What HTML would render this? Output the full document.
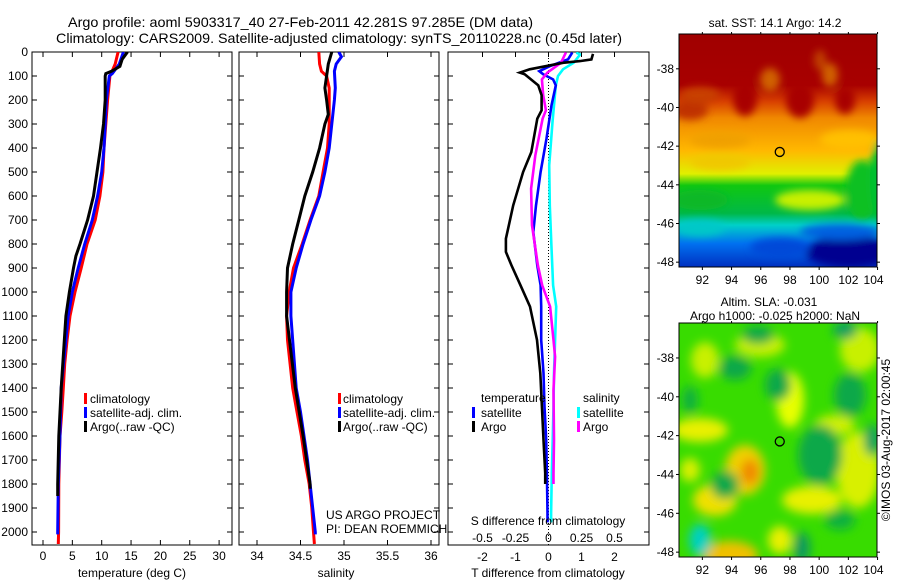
<!DOCTYPE html>
<html><head><meta charset="utf-8"><style>
html,body{margin:0;padding:0;background:#fff;}
svg{display:block;font-family:"Liberation Sans",sans-serif;}
</style></head><body>
<svg id="chart" width="900" height="580" viewBox="0 0 900 580" xmlns="http://www.w3.org/2000/svg">
<defs>
<filter id="blur4" x="-10%" y="-10%" width="120%" height="120%"><feGaussianBlur stdDeviation="4"/></filter>
<filter id="blur6" x="-10%" y="-10%" width="120%" height="120%"><feGaussianBlur stdDeviation="5"/></filter>
<clipPath id="clipMap1"><rect x="679" y="34" width="198" height="233"/></clipPath>
<clipPath id="clipMap2"><rect x="679" y="323" width="198" height="234"/></clipPath>
<clipPath id="clipP1"><rect x="32" y="52" width="200" height="493"/></clipPath>
<clipPath id="clipP2"><rect x="239" y="52" width="200" height="493"/></clipPath>
<clipPath id="clipP3"><rect x="448" y="52" width="201" height="493"/></clipPath>
<linearGradient id="sstGrad" x1="0" y1="0" x2="0" y2="1">
<stop offset="0" stop-color="#a00000"/><stop offset="0.22" stop-color="#a80000"/>
<stop offset="0.29" stop-color="#d84000"/><stop offset="0.36" stop-color="#f08800"/>
<stop offset="0.5" stop-color="#ffb800"/><stop offset="0.6" stop-color="#e0f000"/>
<stop offset="0.65" stop-color="#10c810"/><stop offset="0.77" stop-color="#00b848"/>
<stop offset="0.82" stop-color="#00d0c8"/><stop offset="0.9" stop-color="#0070f0"/>
<stop offset="1" stop-color="#0030c0"/></linearGradient>
</defs>
<g id="titles">
<text x="68" y="27" font-size="14" textLength="465" lengthAdjust="spacingAndGlyphs">Argo profile: aoml 5903317_40 27-Feb-2011 42.281S 97.285E (DM data)</text>
<text x="56" y="43" font-size="14" textLength="566" lengthAdjust="spacingAndGlyphs">Climatology: CARS2009. Satellite-adjusted climatology: synTS_20110228.nc (0.45d later)</text>
</g>
<g id="panels"></g>
<g id="maps"></g>
</svg>
<script>
// ---------- data ----------
const depthTicks=[0,100,200,300,400,500,600,700,800,900,1000,1100,1200,1300,1400,1500,1600,1700,1800,1900,2000];
const tempTicks=[0,5,10,15,20,25,30];
const salTicks=[34,34.5,35,35.5,36];
const dTTicks=[-2,-1,0,1,2];
const dSTicks=[-0.5,-0.25,0,0.25,0.5];
const dSTickLabels=["-0.5","-0.25","0","0.25","0.5"];
// temperature profiles
const climTdepth=[0,50,90,100,200,400,500,600,700,800,900,1000,1100,1200,1300,1400,1500,1600,1800,2000,2050];
const climT=[12.8,12.3,11.6,11.4,11.0,10.4,10.2,9.7,8.9,7.5,6.5,5.45,4.6,4.1,3.7,3.45,3.2,2.9,2.7,2.65,2.6];
const satTdepth=[0,50,90,100,200,400,500,600,700,800,900,1000,1100,1200,1300,1400,1500,1600,1800,2000,2010];
const satT=[13.7,13.0,11.8,11.3,10.8,10.4,10.0,9.3,8.4,7.1,6.0,5.0,4.3,3.9,3.5,3.1,3.0,2.9,2.6,2.5,2.5];
const argoTdepth=[0,30,60,80,90,100,200,300,400,500,600,700,800,850,900,1000,1100,1400,1600,1800,1850];
const argoT=[14.4,13.5,13.1,11.7,10.7,10.6,10.6,10.3,9.8,9.2,8.6,7.6,6.3,5.6,5.2,4.5,3.9,3.1,2.7,2.5,2.5];
// salinity profiles
const climSdepth=[0,50,80,100,150,300,400,500,600,700,800,900,1000,1100,1200,1300,1400,1500,1600,1700,1800,1900,2000,2050];
const climS=[34.71,34.72,34.74,34.80,34.83,34.83,34.81,34.76,34.71,34.61,34.52,34.42,34.37,34.34,34.35,34.38,34.41,34.46,34.51,34.55,34.60,34.63,34.65,34.66];
const satSdepth=[0,20,50,80,150,200,300,400,500,600,700,800,900,1000,1100,1400,1500,1600,1700,1800,1900,2000,2010];
const satS=[34.94,34.97,34.91,34.89,34.90,34.89,34.86,34.83,34.78,34.72,34.62,34.53,34.45,34.39,34.39,34.45,34.50,34.54,34.58,34.61,34.64,34.67,34.67];
const argoSdepth=[0,50,100,150,200,260,300,400,500,600,700,800,900,1000,1100,1400,1600,1800,1820];
const argoS=[34.86,34.82,34.80,34.78,34.80,34.82,34.78,34.72,34.64,34.55,34.48,34.41,34.35,34.34,34.34,34.44,34.53,34.61,34.61];
// differences (T in deg C; S plotted on 4x scale)
const dTsatDepth=[2,31,59,80,93,114,139,222,361,500,639,750,889,972,1061,1200,1338,1477,1616,1755,1922,1960];
const dTsat=[0.72,0.59,0.04,-0.28,-0.16,0.14,0.22,0.09,-0.06,-0.24,-0.38,-0.46,-0.34,-0.24,-0.22,-0.22,-0.15,-0.12,-0.07,-0.05,-0.03,-0.03];
const dTargoDepth=[8,31,38,45,72,86,93,139,180,243,278,417,500,639,778,833,889,972,1061,1200,1338,1477,1616,1755,1800];
const dTargo=[1.35,1.30,0.95,0.44,-0.57,-0.87,-0.72,-0.31,-0.21,-0.21,-0.34,-0.52,-0.77,-1.07,-1.29,-1.29,-1.12,-0.85,-0.56,-0.35,-0.25,-0.2,-0.15,-0.1,-0.1];
const dSsatDepth=[3,10,45,72,100,139,292,472,639,806,972,1061,1200,1338,1477,1616,1755,1922,1960];
const dSsat=[0.21,0.24,0.19,0.11,0.072,0.055,0.03,0.005,0.01,0.022,0.035,0.058,0.05,0.042,0.038,0.032,0.025,0.02,0.02];
const dSargoDepth=[2,45,86,114,180,243,278,431,569,722,889,972,1061,1200,1270,1408,1616,1755,1800];
const dSargo=[0.132,0.095,-0.008,-0.05,-0.04,-0.02,-0.045,-0.1,-0.132,-0.125,-0.08,-0.048,0.012,0.038,0.05,0.038,0.042,0.038,0.038];
// map annotations
const lonTicks=[92,94,96,98,100,102,104];
const latTicks=[-38,-40,-42,-44,-46,-48];
const floatLon=97.3, floatLat=-42.3;

// ---------- helpers ----------
const NS="http://www.w3.org/2000/svg";
function mk(tag,attrs,parent){const e=document.createElementNS(NS,tag);for(const k in attrs)e.setAttribute(k,attrs[k]);parent.appendChild(e);return e;}
const yD=d=>52+d*0.24;
const xT=v=>43+v*5.87;
const xS=v=>257+(v-34)*87;
const xDT=v=>548.5+v*33;
const xDS=v=>548.5+v*4*33;
const panels=document.getElementById('panels');

function frame(x0,x1,name){
  const r=mk('rect',{x:x0,y:52,width:x1-x0,height:493,fill:'none',stroke:'#000','stroke-width':1},panels);
  
  
  depthTicks.forEach(d=>{
    mk('line',{x1:x0,x2:x0+5,y1:yD(d),y2:yD(d),stroke:'#000'},panels);
    mk('line',{x1:x1-5,x2:x1,y1:yD(d),y2:yD(d),stroke:'#000'},panels);
  });
}
function xticks(ticks,fx,labels,y,name){
  ticks.forEach((v,i)=>{
    const x=fx(v);
    mk('line',{x1:x,x2:x,y1:545,y2:540,stroke:'#000'},panels);
    mk('line',{x1:x,x2:x,y1:52,y2:57,stroke:'#000'},panels);
    const t=mk('text',{x:x,y:y,'font-size':12,'text-anchor':'middle'},panels);
    t.textContent=labels?labels[i]:String(v);
    
    
  });
}
function curve(ds,vs,fx,color,clip,name,w){
  const p=mk('path',{d:ds.map((d,i)=>(i?'L':'M')+fx(vs[i]).toFixed(1)+','+yD(d).toFixed(1)).join(''),fill:'none',stroke:color,'stroke-width':w||3,'clip-path':'url(#'+clip+')'},panels);
  
  
}
function label(x,y,txt,name,anchor,size){
  const t=mk('text',{x:x,y:y,'font-size':size||12,'text-anchor':anchor||'start'},panels);
  t.textContent=txt;
  
  
  return t;
}
function legendMark(x,y,color,name){
  const r=mk('rect',{x:x,y:y-10,width:3,height:11,fill:color},panels);
  
  
}

depthTicks.forEach(d=>{
  label(28,yD(d)+4,String(d),'y-tick-label','end');
});

// panel 1
frame(32,232,'temperature-panel');
xticks(tempTicks,xT,null,560,'temperature-x-tick');
curve(climTdepth,climT,xT,'#ff0000','clipP1','climatology-temperature-line');
curve(satTdepth,satT,xT,'#0000ff','clipP1','satellite-temperature-line');
curve(argoTdepth,argoT,xT,'#000000','clipP1','argo-temperature-line');
label(132,577,'temperature (deg C)','temperature-axis-title','middle');
[['climatology','#ff0000'],['satellite-adj. clim.','#0000ff'],['Argo(..raw -QC)','#000000']].forEach((e,i)=>{
  legendMark(84,403+i*14,e[1],'temperature-legend-marker');
  label(90,403+i*14,e[0],'temperature-legend-entry');
});

// panel 2
frame(239,439,'salinity-panel');
xticks(salTicks,xS,null,560,'salinity-x-tick');
curve(climSdepth,climS,xS,'#ff0000','clipP2','climatology-salinity-line');
curve(satSdepth,satS,xS,'#0000ff','clipP2','satellite-salinity-line');
curve(argoSdepth,argoS,xS,'#000000','clipP2','argo-salinity-line');
label(336,577,'salinity','salinity-axis-title','middle');
[['climatology','#ff0000'],['satellite-adj. clim.','#0000ff'],['Argo(..raw -QC)','#000000']].forEach((e,i)=>{
  legendMark(338,403+i*14,e[1],'salinity-legend-marker');
  label(343,403+i*14,e[0],'salinity-legend-entry');
});
label(326,519,'US ARGO PROJECT','project-credit');
label(326,533,'PI: DEAN ROEMMICH','pi-credit');

// panel 3
mk('rect',{x:448,y:52,width:201,height:493,fill:'#fff'},panels);
frame(448,649,'difference-panel');
mk('line',{x1:xDT(0),x2:xDT(0),y1:52,y2:545,stroke:'#000','stroke-dasharray':'1,2'},panels);
curve(dSsatDepth,dSsat,xDS,'#00ffff','clipP3','satellite-salinity-difference-line',2.6);
curve(dTsatDepth,dTsat,xDT,'#0000ff','clipP3','satellite-temperature-difference-line',2.6);
curve(dSargoDepth,dSargo,xDS,'#ff00ff','clipP3','argo-salinity-difference-line',2.6);
curve(dTargoDepth,dTargo,xDT,'#000000','clipP3','argo-temperature-difference-line',2.6);
dTTicks.forEach(v=>{const x=xDT(v);mk('line',{x1:x,x2:x,y1:52,y2:57,stroke:'#000'},panels);});
dTTicks.forEach(v=>{
  label(xDT(v),561,String(v),'t-difference-x-tick','middle');
});
dSTicks.forEach((v,i)=>{
  label(xDS(v),542,dSTickLabels[i],'s-difference-x-tick','middle');
});
label(548,525,'S difference from climatology','s-difference-axis-title','middle');
label(548,577,'T difference from climatology','t-difference-axis-title','middle');
label(481,402,'temperature','difference-legend-temperature-heading');
label(583,402,'salinity','difference-legend-salinity-heading');
legendMark(472,417,'#0000ff','legend-marker-t-satellite');label(481,417,'satellite','legend-entry-t-satellite');
legendMark(472,431,'#000000','legend-marker-t-argo');label(481,431,'Argo','legend-entry-t-argo');
legendMark(577,417,'#00ffff','legend-marker-s-satellite');label(583,417,'satellite','legend-entry-s-satellite');
legendMark(577,431,'#ff00ff','legend-marker-s-argo');label(583,431,'Argo','legend-entry-s-argo');

// ---------- maps ----------
const maps=document.getElementById('maps');
const mx=lon=>679+(lon-90.4)*14.6;
function mapAxes(top,bottom,name){
  const my=lat=>top+(-36.2-lat)*((bottom-top)/12.05);
  const r=mk('rect',{x:679,y:top,width:198,height:bottom-top,fill:'none',stroke:'#000'},maps);
  
  
  lonTicks.forEach(l=>{
    mk('line',{x1:mx(l),x2:mx(l),y1:bottom,y2:bottom+3,stroke:'#000'},maps);
    mk('line',{x1:mx(l),x2:mx(l),y1:top,y2:top-2,stroke:'#000'},maps);
    const t=mk('text',{x:mx(l)-(l===104?4:0),y:bottom+17,'font-size':12,'text-anchor':'middle'},maps);
    t.textContent=String(l);
    
    
  });
  latTicks.forEach(l=>{
    mk('line',{x1:676,x2:679,y1:my(l),y2:my(l),stroke:'#000'},maps);
    mk('line',{x1:877,x2:880,y1:my(l),y2:my(l),stroke:'#000'},maps);
    const t=mk('text',{x:674,y:my(l)+4,'font-size':12,'text-anchor':'end'},maps);
    t.textContent=String(l);
    
    
  });
  const c=mk('circle',{cx:mx(floatLon),cy:my(floatLat),r:4.5,fill:'none',stroke:'#000','stroke-width':1.3},maps);
  
  
}
// SST map
const g1=mk('g',{'clip-path':'url(#clipMap1)'},maps);


mk('rect',{x:679,y:34,width:198,height:233,fill:'url(#sstGrad)'},g1);
const gb1=mk('g',{filter:'url(#blur4)'},g1);
[[690,110,18,10,'#c03000'],[745,98,12,18,'#a80000'],[800,100,14,18,'#a80000'],[845,100,10,14,'#a80000'],
 [700,95,20,8,'#c84000'],[770,80,10,12,'#d06000'],[830,75,8,12,'#d06000'],[820,60,6,10,'#c04000'],
 [720,140,30,8,'#f0a000'],[850,140,30,10,'#ffc000'],
 [862,190,16,30,'#10c020'],[700,200,28,10,'#10b828'],[880,180,10,40,'#00c030'],[720,162,30,8,'#f0c800'],
 [810,200,35,10,'#c8f000'],
 [850,252,45,16,'#000090'],[780,248,30,10,'#0048d8'],[700,228,25,8,'#00c8c8'],[840,232,40,8,'#0060e0']].forEach(b=>{
  mk('ellipse',{cx:b[0],cy:b[1],rx:b[2],ry:b[3],fill:b[4]},gb1);
});
mapAxes(34,267,'sst-map');
// SLA map
const g2=mk('g',{'clip-path':'url(#clipMap2)'},maps);


mk('rect',{x:679,y:323,width:198,height:234,fill:'#38dc00'},g2);
const gb2=mk('g',{filter:'url(#blur6)'},g2);
[[760,345,25,12,'#c8f000'],[790,400,14,28,'#e8ff00'],[700,430,28,12,'#e8f000'],[745,470,20,25,'#f0d000'],[750,472,9,13,'#f08800'],
 [715,500,22,16,'#f0e000'],[730,555,28,14,'#f0c000'],[812,500,30,14,'#e8f000'],[858,470,22,38,'#d8f000'],[860,350,20,22,'#c8f000'],
 [835,425,20,10,'#d0f000'],[705,360,14,18,'#c8f000'],[690,470,10,12,'#d8f000'],[780,540,12,14,'#e8f000'],
 [778,385,13,16,'#08a848'],[735,368,16,12,'#10a848'],[820,455,22,30,'#10a848'],[725,485,14,14,'#10a848'],[700,540,11,16,'#00d0c0'],
 [802,548,8,16,'#089860'],[850,395,16,22,'#10a848'],[872,440,8,16,'#10a060'],[758,335,16,9,'#10a848'],[845,330,12,9,'#10a060'],
 [690,400,8,14,'#10b040'],[840,520,15,10,'#10b040']].forEach(b=>{
  mk('ellipse',{cx:b[0],cy:b[1],rx:b[2],ry:b[3],fill:b[4]},gb2);
});
mapAxes(323,557,'sla-map');
function mtext(x,y,txt,name,extra){
  const t=mk('text',Object.assign({x:x,y:y,'font-size':12,'text-anchor':'middle'},extra||{}),maps);
  t.textContent=txt;
  
  
}
mtext(775,27,'sat. SST: 14.1 Argo: 14.2','sst-map-title');
mtext(769,306,'Altim. SLA: -0.031','sla-map-title');
mtext(775,320,'Argo h1000: -0.025 h2000: NaN','argo-height-title');
mtext(890,440,'©IMOS 03-Aug-2017 02:00:45','imos-timestamp',{transform:'rotate(-90 890 440)'});
</script>
</body></html>
